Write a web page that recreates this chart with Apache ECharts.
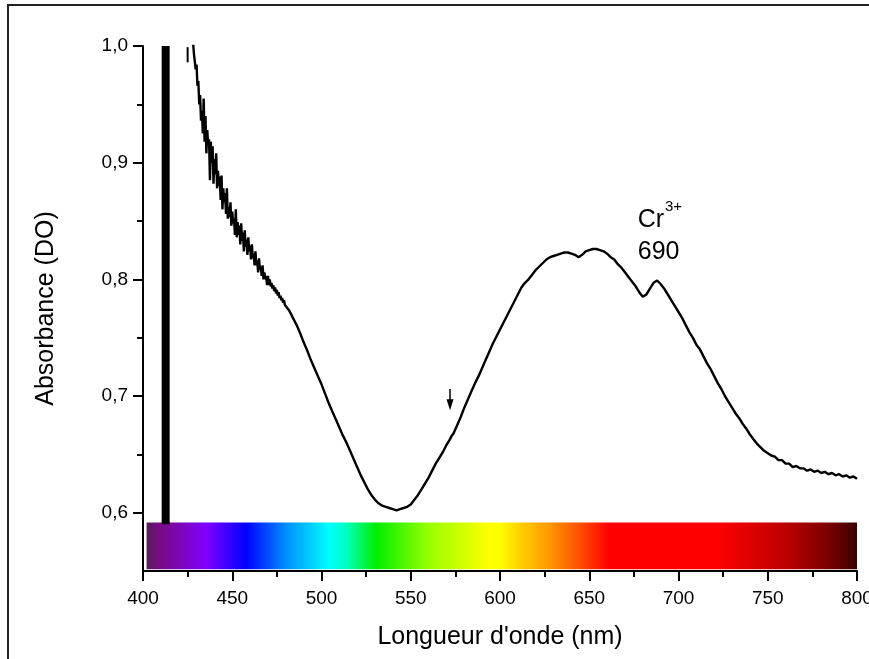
<!DOCTYPE html>
<html>
<head>
<meta charset="utf-8">
<script src="https://cdn.jsdelivr.net/npm/echarts@6/dist/echarts.min.js"></script>
<style>html,body{margin:0;padding:0;background:#fff;overflow:hidden;}#chart{width:869px;height:659px;}</style>
</head>
<body>
<div id="chart"></div>
<script>
// ---- data ----
const wavelength = [
  428,428.5,429,429.5,430,430.5,431,431.5,432,432.5,433,433.5,434,434.5,435,435.5,436,436.5,437,437.5,
  438,438.5,439,439.5,440,440.5,441,441.5,442,442.5,443,443.5,444,444.5,445,445.5,446,446.5,447,447.5,
  448,448.5,449,449.5,450,450.5,451,451.5,452,452.5,453,453.5,454,454.5,455,455.5,456,456.5,457,457.5,
  458,458.5,459,459.5,460,460.5,461,461.5,462,462.5,463,463.5,464,464.5,465,465.5,466,466.5,467,467.5,
  468,468.5,469,469.5,470,470.5,471,471.5,472,472.5,473,473.5,474,474.5,475,475.5,476,476.5,477,477.5,
  478,478.5,479,479.5,480,
  482,484,486,488,490,492,494,496,498,500,502,504,506,
  508,510,512,514,516,518,520,522,524,526,528,530,532,534,536,538,540,542,543,544,
  546,548,550,552,554,556,558,560,562,564,566,568,570,572,573,574,576,578,580,582,
  584,586,588,590,592,594,596,598,600,602,604,606,608,610,612,614,616,618,620,622,
  624,626,628,630,632,634,636,638,640,642,644,646,648,650,652,654,656,658,660,662,
  664,666,668,670,672,674,676,678,680,681,682,684,686,688,690,692,694,696,698,700,
  702,704,706,708,710,712,714,716,718,720,722,724,726,728,730,732,734,736,738,740,
  742,744,746,748,750,752,754,756,758,760,762,764,766,768,770,772,774,776,778,780,
  782,784,786,788,790,792,794,796,798,800
];
const absorbance = [
  1.004,0.994,0.993,0.980,0.984,0.966,0.970,0.950,0.958,0.936,0.944,0.925,0.955,0.918,0.940,0.908,0.928,0.915,0.920,0.885,
  0.918,0.900,0.914,0.882,0.903,0.890,0.908,0.878,0.893,0.880,0.888,0.868,0.889,0.860,0.878,0.866,0.874,0.856,0.878,0.852,
  0.862,0.853,0.866,0.846,0.858,0.848,0.852,0.838,0.860,0.836,0.849,0.838,0.846,0.830,0.848,0.833,0.840,0.824,0.842,0.828,
  0.834,0.821,0.836,0.824,0.829,0.817,0.830,0.818,0.822,0.812,0.824,0.812,0.816,0.806,0.818,0.808,0.811,0.803,0.812,0.800,
  0.806,0.800,0.803,0.795,0.803,0.795,0.800,0.794,0.797,0.792,0.795,0.790,0.793,0.788,0.791,0.786,0.789,0.784,0.786,0.782,
  0.784,0.780,0.782,0.778,0.779,
  0.773,0.767,0.761,0.754,0.746,0.739,0.731,0.724,0.717,0.710,0.702,0.694,0.687,
  0.680,0.673,0.666,0.660,0.653,0.646,0.639,0.632,0.626,0.620,0.615,0.611,0.608,0.606,0.605,0.604,0.603,0.602,0.601,0.603,
  0.604,0.605,0.607,0.611,0.615,0.620,0.625,0.630,0.636,0.642,0.647,0.652,0.658,0.663,0.666,0.668,0.675,0.682,0.690,0.697,
  0.704,0.711,0.717,0.724,0.731,0.738,0.745,0.751,0.757,0.763,0.769,0.775,0.781,0.787,0.793,0.797,0.800,0.804,0.808,0.811,
  0.814,0.817,0.819,0.820,0.821,0.822,0.823,0.823,0.822,0.821,0.819,0.821,0.824,0.825,0.826,0.826,0.825,0.824,0.822,0.819,
  0.817,0.813,0.810,0.806,0.802,0.798,0.794,0.789,0.785,0.785,0.787,0.792,0.797,0.799,0.796,0.792,0.787,0.782,0.777,0.772,
  0.767,0.761,0.755,0.750,0.744,0.740,0.734,0.728,0.723,0.717,0.711,0.706,0.700,0.695,0.690,0.685,0.681,0.676,0.672,0.667,
  0.663,0.659,0.656,0.653,0.651,0.649,0.648,0.645,0.645,0.642,0.642,0.639,0.640,0.638,0.638,0.636,0.637,0.635,0.636,0.634,
  0.635,0.633,0.634,0.632,0.633,0.631,0.632,0.630,0.631,0.629
];
const saturatedX = [412.7, 412.7];
const saturatedY = [1.0, 0.59];
const glitchX = [425, 425];
const glitchY = [0.999, 0.986];
const spectrumX = [402, 800];
const spectrumY = [0.5915, 0.5515];
const arrowX = 572;
const arrowShaftY = [0.706, 0.694];
const arrowHeadY = 0.6925;
const xTicks = [400, 450, 500, 550, 600, 650, 700, 750, 800];
const yTicks = [0.6, 0.7, 0.8, 0.9, 1.0];
const yMinorTicks = [0.65, 0.75, 0.85, 0.95];
const ionLabel = 'Cr';
const chargeLabel = '3+';
const peakLabel = '690';
const ionPos = [677.2, 0.851];
const chargePos = [692.4, 0.8617];
const peakPos = [677.2, 0.8231];
const xTitle = "Longueur d'onde (nm)";
const yTitle = 'Absorbance (DO)';

// ---- styles ----
const FONT = 'Liberation Sans, Arial, sans-serif';
const spectrumStops = [
  {offset: 0.000, color: '#5a1a5a'},
  {offset: 0.022, color: '#7a0a8a'},
  {offset: 0.085, color: '#8000ff'},
  {offset: 0.140, color: '#0000ff'},
  {offset: 0.197, color: '#0090ff'},
  {offset: 0.257, color: '#00ffff'},
  {offset: 0.281, color: '#00ffc0'},
  {offset: 0.323, color: '#00ee00'},
  {offset: 0.398, color: '#99ff00'},
  {offset: 0.482, color: '#ffff00'},
  {offset: 0.496, color: '#ffff00'},
  {offset: 0.529, color: '#ffcc00'},
  {offset: 0.566, color: '#ff9900'},
  {offset: 0.609, color: '#ff5000'},
  {offset: 0.651, color: '#ff0000'},
  {offset: 0.802, color: '#ff0000'},
  {offset: 0.895, color: '#c00000'},
  {offset: 0.956, color: '#800000'},
  {offset: 1.000, color: '#3a0000'}
];

const zip = (xs, ys) => xs.map((x, i) => [x, ys[i]]);
const fmt = v => v.toFixed(1).replace('.', ',');

const chart = echarts.init(document.getElementById('chart'), null, {renderer: 'canvas'});
chart.setOption({
  animation: false,
  backgroundColor: '#fff',
  textStyle: {fontFamily: FONT},
  graphic: [{
    type: 'rect', z: 100, silent: true,
    shape: {x: 8, y: 5, width: 900, height: 700},
    style: {fill: null, stroke: '#222', lineWidth: 2}
  }],
  grid: {left: 143, right: 12, top: 46, bottom: 88, containLabel: false, outerBoundsMode: 'none'},
  xAxis: {
    type: 'value', min: 400, max: 800, interval: 50,
    name: xTitle, nameLocation: 'middle', nameGap: 54,
    nameTextStyle: {fontSize: 25, color: '#000', fontFamily: FONT},
    axisLine: {show: true, lineStyle: {color: '#000', width: 2}},
    axisTick: {show: true, length: 10, lineStyle: {color: '#000', width: 2}},
    minorTick: {show: true, splitNumber: 2, length: 6, lineStyle: {color: '#000', width: 2}},
    splitLine: {show: false},
    minorSplitLine: {show: false},
    axisLabel: {fontSize: 19, color: '#000', margin: 18, fontFamily: FONT,
      customValues: xTicks, formatter: v => String(v)}
  },
  yAxis: [{
    type: 'value', min: 0.55, max: 1.0,
    name: yTitle, nameLocation: 'middle', nameGap: 84, nameRotate: 90,
    nameTextStyle: {fontSize: 25, color: '#000', fontFamily: FONT},
    axisLine: {show: true, lineStyle: {color: '#000', width: 2}},
    axisTick: {show: true, length: 10, customValues: yTicks, lineStyle: {color: '#000', width: 2}},
    splitLine: {show: false},
    axisLabel: {fontSize: 19, color: '#000', margin: 15, fontFamily: FONT,
      customValues: yTicks, formatter: v => fmt(v)}
  }, {
    type: 'value', min: 0.55, max: 1.0, position: 'left', offset: 0,
    axisLine: {show: false},
    axisTick: {show: true, length: 6, customValues: yMinorTicks, lineStyle: {color: '#000', width: 2}},
    splitLine: {show: false},
    axisLabel: {show: false}
  }],
  series: [
    {
      type: 'line', name: 'saturated', data: zip(saturatedX, saturatedY),
      symbol: 'none', lineStyle: {color: '#000', width: 8}, z: 2, silent: true
    },
    {
      type: 'line', name: 'glitch', data: zip(glitchX, glitchY),
      symbol: 'none', lineStyle: {color: '#000', width: 2}, z: 2, silent: true
    },
    {
      type: 'line', name: 'absorbance', data: zip(wavelength, absorbance),
      symbol: 'none', lineStyle: {color: '#000', width: 2.4}, z: 3, silent: true,
      markPoint: {
        silent: true, symbol: 'circle', symbolSize: 0,
        label: {show: true, position: 'right', distance: 0, color: '#000', fontFamily: FONT},
        data: [
          {coord: ionPos, value: 0, label: {formatter: ionLabel, fontSize: 25}},
          {coord: chargePos, value: 0, label: {formatter: chargeLabel, fontSize: 15}},
          {coord: peakPos, value: 0, label: {formatter: peakLabel, fontSize: 25}}
        ]
      }
    },
    {
      type: 'line', name: 'arrow', data: zip([arrowX, arrowX], arrowShaftY),
      symbol: 'none', lineStyle: {color: '#000', width: 1.5}, z: 3, silent: true,
      markPoint: {
        silent: true, symbol: 'triangle', symbolSize: [7, 11], symbolRotate: 180,
        itemStyle: {color: '#000'}, label: {show: false},
        data: [{coord: [arrowX, arrowHeadY], value: 0}]
      }
    },
    {
      type: 'line', name: 'spectrum', data: [], z: 5, silent: true,
      markArea: {
        silent: true,
        itemStyle: {color: new echarts.graphic.LinearGradient(0, 0, 1, 0, spectrumStops), borderWidth: 0},
        label: {show: false},
        data: [[{coord: [spectrumX[0], spectrumY[0]]}, {coord: [spectrumX[1], spectrumY[1]]}]]
      }
    }
  ]
});
</script>
</body>
</html>
